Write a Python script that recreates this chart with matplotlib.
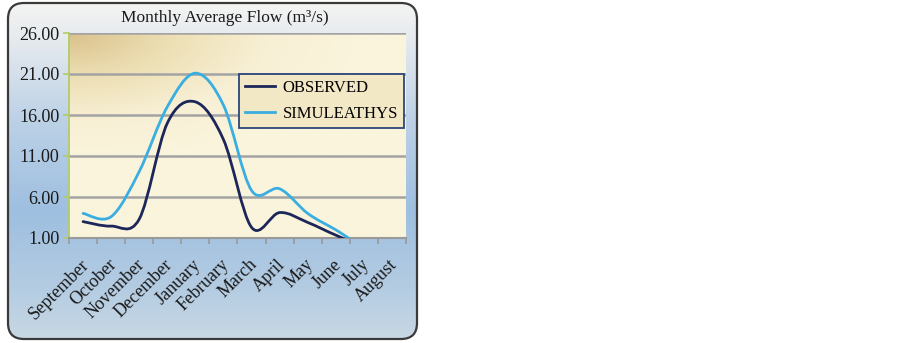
import numpy as np
import matplotlib
matplotlib.use('Agg')
import matplotlib.pyplot as plt
from matplotlib.path import Path
from matplotlib.patches import PathPatch, FancyBboxPatch
from matplotlib.colors import LinearSegmentedColormap
from matplotlib.lines import Line2D
from matplotlib.transforms import ScaledTranslation

# data (monthly values, category axis)
months = ['September', 'October', 'November', 'December', 'January', 'February',
          'March', 'April', 'May', 'June', 'July', 'August']
observed = [3.0, 2.45, 3.3, 15.0, 17.6, 13.0, 2.3, 4.1, 2.9, 1.35, 0.0, 0.0]
simulated = [4.0, 3.6, 9.1, 17.0, 21.1, 17.2, 6.8, 7.0, 4.0, 2.0, 0.0, 0.0]
series_names = ['OBSERVED', 'SIMULEATHYS']
yticks = [1, 6, 11, 16, 21, 26]

obs_color = '#1d2659'
sim_color = '#3aaee0'
serif = ['Liberation Serif', 'DejaVu Serif']

W, H = 903, 343
fig = plt.figure(figsize=(W / 100, H / 100), dpi=100)
fig.patch.set_facecolor('white')


def smooth_path(ys):
    # excel-style smoothed line: catmull-rom segments drawn as cubic beziers
    pts = np.column_stack([np.arange(len(ys), dtype=float), ys])
    ext = np.vstack([pts[0], pts, pts[-1]])
    verts = [pts[0]]
    codes = [Path.MOVETO]
    for i in range(len(pts) - 1):
        p0, p1, p2, p3 = ext[i], ext[i + 1], ext[i + 2], ext[i + 3]
        verts += [p1 + (p2 - p0) / 6, p2 - (p3 - p1) / 6, p2]
        codes += [Path.CURVE4] * 3
    return Path(verts, codes)


# ---- outer rounded box with vertical gradient ----
bg = fig.add_axes([0, 0, 1, 1])
bg.set_xlim(0, W)
bg.set_ylim(H, 0)
bg.axis('off')
box = FancyBboxPatch((8, 3), 409, 336, boxstyle='round,pad=0,rounding_size=16',
                     transform=bg.transData, fc='none', ec='#3a3a3a', lw=1.6, zorder=3)
bg.add_patch(box)
box_cmap = LinearSegmentedColormap.from_list('box', [
    (0.0, '#f4f4f2'), (0.12, '#e4e9ee'), (0.35, '#bcd1e6'),
    (0.62, '#9ebfe0'), (0.85, '#b4cce2'), (1.0, '#c8d8e4')])
grad = np.linspace(0, 1, 256).reshape(-1, 1)
im = bg.imshow(grad, cmap=box_cmap, extent=(8, 417, 339, 3), aspect='auto', zorder=1)
im.set_clip_path(box)

# ---- plot area ----
ax = fig.add_axes([69 / W, 1 - 238 / H, 337 / W, 205 / H])
ax.set_xlim(-0.5, 11.5)
ax.set_ylim(1, 26)

# row 0 = top of the plot area, tan corner at top-left
gx, gy = np.meshgrid(np.linspace(0, 1, 200), np.linspace(0, 1, 120))
d = np.clip(np.sqrt(gx ** 2 + (gy * 1.4) ** 2) / 0.85, 0, 1)
area_cmap = LinearSegmentedColormap.from_list('area', [
    (0.0, '#dac28c'), (0.35, '#eddfb4'), (0.7, '#f8f0d5'), (1.0, '#faf4dc')])
ax.imshow(d, cmap=area_cmap, extent=(-0.5, 11.5, 1, 26), origin='upper',
          aspect='auto', zorder=0, interpolation='bilinear')

for y in yticks:
    ax.axhline(y, color='#a3a3a3', lw=1.8, zorder=1)

ax.add_patch(PathPatch(smooth_path(observed), fill=False, ec=obs_color, lw=2.0,
                       zorder=3, capstyle='round'))
ax.add_patch(PathPatch(smooth_path(simulated), fill=False, ec=sim_color, lw=2.0,
                       zorder=3, capstyle='round'))

# axes styling
for s in ['top', 'right']:
    ax.spines[s].set_visible(False)
ax.spines['left'].set_color('#b2cc66')
ax.spines['left'].set_linewidth(1.3)
ax.spines['bottom'].set_color('#9a9a9a')
ax.spines['bottom'].set_linewidth(1.5)

ax.set_yticks(yticks)
ax.set_yticklabels(['%.2f' % v for v in yticks], fontfamily=serif, fontsize=13,
                   color='#1a1a1a')
ax.tick_params(axis='y', length=4, width=1.2, color='#b2cc66', pad=3)

ax.set_xticks(np.arange(len(months)))
ax.set_xticklabels(months, rotation=45, ha='right', va='top',
                   rotation_mode='anchor', fontfamily=serif, fontsize=13,
                   color='#1a1a1a')
ax.tick_params(axis='x', which='major', length=0, pad=13)
shift = ScaledTranslation(-3 / 100, 0, fig.dpi_scale_trans)
for lab in ax.get_xticklabels():
    lab.set_transform(lab.get_transform() + shift)
ax.set_xticks(np.arange(-0.5, 12, 1), minor=True)
ax.tick_params(axis='x', which='minor', length=4, width=1.2, color='#9a9a9a')

# legend
handles = [Line2D([], [], color=obs_color, lw=2.0),
           Line2D([], [], color=sim_color, lw=2.0)]
leg = ax.legend(handles, series_names, loc='upper left', bbox_to_anchor=(0.503, 0.80),
                prop={'family': serif, 'size': 12}, frameon=True, fancybox=False,
                handlelength=1.8, handletextpad=0.5, labelspacing=0.62,
                borderpad=0.36, borderaxespad=0)
leg.get_frame().set_edgecolor('#2b4778')
leg.get_frame().set_facecolor('#f3e8c6')
leg.get_frame().set_linewidth(1.3)
leg.get_frame().set_alpha(1)
leg.set_zorder(5)

fig.text(225 / W, 1 - 18 / H, 'Monthly Average Flow (m\u00b3/s)', ha='center', va='center',
         fontfamily=serif, fontsize=12.5, color='#1a1a1a')

fig.savefig('out.png', dpi=100)
